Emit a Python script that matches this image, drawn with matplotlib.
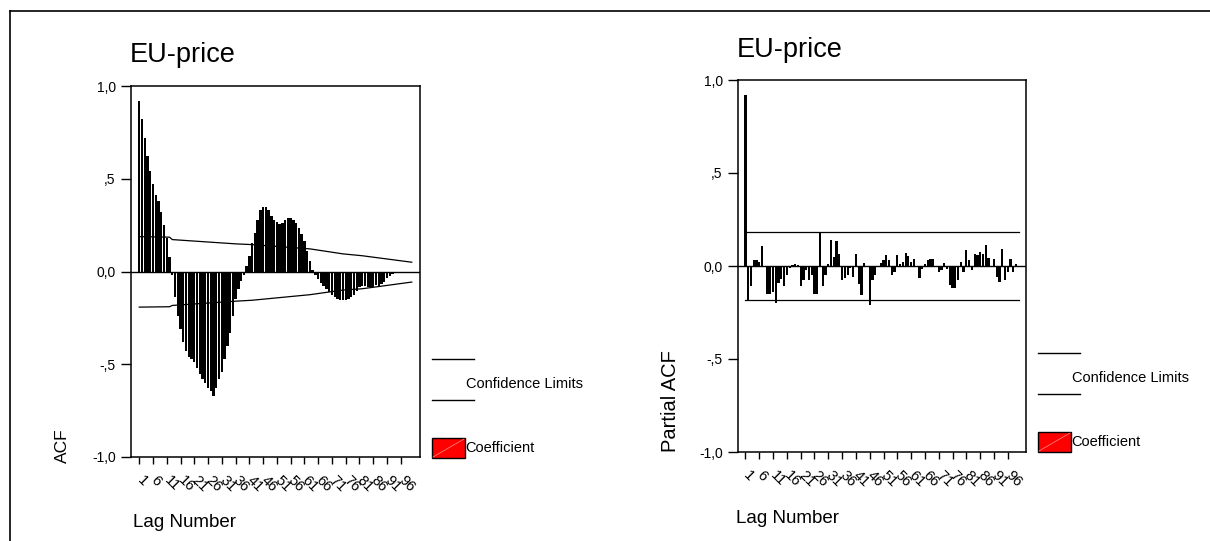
import matplotlib
matplotlib.use("Agg")
import matplotlib.pyplot as plt
from matplotlib.patches import Rectangle
from matplotlib.lines import Line2D

plt.rcParams["font.family"] = ["Liberation Sans", "DejaVu Sans"]

# ---- data -------------------------------------------------------------
lags = list(range(1, 101))

acf = [0.92, 0.82, 0.72, 0.62, 0.54, 0.47, 0.41, 0.38, 0.32, 0.25,
       0.18, 0.08, -0.02, -0.14, -0.24, -0.31, -0.38, -0.43, -0.46, -0.47,
       -0.49, -0.52, -0.55, -0.58, -0.60, -0.63, -0.645, -0.67, -0.63, -0.58,
       -0.54, -0.47, -0.40, -0.33, -0.24, -0.15, -0.095, -0.05, -0.02, 0.03,
       0.085, 0.155, 0.21, 0.28, 0.33, 0.35, 0.35, 0.33, 0.30, 0.28,
       0.265, 0.255, 0.26, 0.275, 0.29, 0.29, 0.28, 0.26, 0.235, 0.20,
       0.165, 0.11, 0.057, 0.01, -0.02, -0.04, -0.06, -0.077, -0.095, -0.11,
       -0.125, -0.14, -0.15, -0.155, -0.155, -0.155, -0.15, -0.14, -0.125, -0.105,
       -0.086, -0.077, -0.077, -0.086, -0.086, -0.082, -0.072, -0.077, -0.068, -0.054,
       -0.036, -0.023, -0.014, -0.005, -0.002, -0.004, -0.003, -0.002, -0.002, -0.001]

pacf = [0.92, -0.19, -0.105, 0.03, 0.03, 0.02, 0.11, 0.0, -0.15, -0.15,
        -0.14, -0.20, -0.09, -0.07, -0.11, -0.05, -0.01, 0.008, 0.01, 0.005,
        -0.108, -0.077, -0.023, -0.077, -0.05, -0.15, -0.15, 0.185, -0.108, -0.05,
        0.012, 0.14, 0.05, 0.135, 0.066, -0.074, -0.065, -0.05, -0.01, -0.06,
        0.066, -0.095, -0.158, 0.016, 0.0, -0.21, -0.077, -0.05, 0.0, 0.018,
        0.03, 0.06, 0.03, -0.047, -0.03, 0.06, 0.013, 0.02, 0.07, 0.054,
        0.02, 0.04, 0.0, -0.063, -0.015, 0.013, 0.03, 0.036, 0.036, 0.0,
        -0.03, -0.02, 0.018, -0.015, -0.10, -0.12, -0.12, -0.077, 0.02, -0.03,
        0.085, 0.03, -0.02, 0.066, 0.06, 0.075, 0.066, 0.115, 0.043, 0.0,
        0.04, -0.06, -0.086, 0.093, -0.074, -0.03, 0.04, -0.03, 0.01, 0.0]

# confidence limits of the ACF, read at a few lags
acf_limit_lags = [1, 12, 13, 36, 42, 63, 75, 82, 100]
acf_limit_upper = [0.188, 0.185, 0.172, 0.149, 0.145, 0.122, 0.095, 0.085, 0.05]
acf_limit_lower = [-0.192, -0.19, -0.183, -0.16, -0.155, -0.125, -0.10, -0.093, -0.057]
pacf_limit = 0.185

tick_lags = list(range(1, 97, 5))
tick_labels = [str(v) for v in tick_lags]
ytick_vals = [-1.0, -0.5, 0.0, 0.5, 1.0]
ytick_labels = ["-1,0", "-,5", "0,0", ",5", "1,0"]

title = "EU-price"

# ---- figure -------------------------------------------------------------
W, H = 1210, 541
fig = plt.figure(figsize=(W / 100, H / 100), dpi=100)
fig.patch.set_facecolor("white")


def fx(x):
    return x / W


def fy(y):
    return 1 - y / H


def px_axes(x0, y0, x1, y1):
    return fig.add_axes([fx(x0), fy(y1), (x1 - x0) / W, (y1 - y0) / H])


# outer frame (top and left edges)
fig.add_artist(Line2D([fx(10), fx(1210)], [fy(11), fy(11)], color="black", lw=1.2))
fig.add_artist(Line2D([fx(10), fx(10)], [fy(11), fy(541)], color="black", lw=1.2))


def style_axes(ax, xlim):
    ax.set_xlim(*xlim)
    ax.set_ylim(-1, 1)
    ax.axhline(0, color="black", lw=1.0, zorder=3)
    ax.set_yticks(ytick_vals)
    ax.set_yticklabels(ytick_labels, fontsize=10)
    ax.set_xticks(tick_lags)
    ax.set_xticklabels(tick_labels, fontsize=10.5, rotation=-45,
                       ha="left", va="center", rotation_mode="anchor")
    ax.tick_params(axis="y", direction="out", length=7, width=1.0, pad=4)
    ax.tick_params(axis="x", direction="out", length=5, width=1.0, pad=10)
    for s in ax.spines.values():
        s.set_linewidth(1.1)
        s.set_color("black")


def legend(x0, y_line1, y_line2, y_box):
    fig.add_artist(Line2D([fx(x0), fx(x0 + 42)], [fy(y_line1), fy(y_line1)], color="black", lw=1.0))
    fig.add_artist(Line2D([fx(x0), fx(x0 + 42)], [fy(y_line2), fy(y_line2)], color="black", lw=1.0))
    fig.text(fx(x0 + 34), fy((y_line1 + y_line2) / 2 + 5), "Confidence Limits",
             fontsize=10.5, ha="left", va="center")
    fig.add_artist(Rectangle((fx(x0), fy(y_box + 10)), 33 / W, 20 / H,
                             facecolor="#ff0000", edgecolor="black", lw=1.0))
    fig.add_artist(Line2D([fx(x0 + 1), fx(x0 + 32)], [fy(y_box + 9), fy(y_box - 9)],
                          color="#ff9090", lw=0.5))
    fig.text(fx(x0 + 33), fy(y_box), "Coefficient", fontsize=10.5, ha="left", va="center")


# ---- ACF panel ------------------------------------------------------------
ax1 = px_axes(131, 86, 420, 457)
ax1.bar(lags, acf, width=0.85, color="black", edgecolor="none", zorder=2)
ax1.plot(acf_limit_lags, acf_limit_upper, color="black", lw=0.9, zorder=4)
ax1.plot(acf_limit_lags, acf_limit_lower, color="black", lw=0.9, zorder=4)
style_axes(ax1, (-2.0, 103.0))
fig.text(fx(130), fy(62), title, fontsize=19.5, ha="left", va="baseline")
fig.text(fx(133), fy(527), "Lag Number", fontsize=13.5, ha="left", va="baseline")
fig.text(fx(62), fy(463), "ACF", fontsize=12.5, rotation=90, ha="center", va="bottom")
legend(432, 359, 400, 448)

# ---- PACF panel -----------------------------------------------------------
ax2 = px_axes(738, 80, 1026, 452)
ax2.bar(lags, pacf, width=0.8, color="black", edgecolor="none", zorder=2)
ax2.plot([lags[0], lags[-1]], [pacf_limit, pacf_limit], color="black", lw=0.9, zorder=4)
ax2.plot([lags[0], lags[-1]], [-pacf_limit, -pacf_limit], color="black", lw=0.9, zorder=4)
style_axes(ax2, (-1.7, 102.6))
fig.text(fx(737), fy(57), title, fontsize=19.5, ha="left", va="baseline")
fig.text(fx(736), fy(523), "Lag Number", fontsize=13.5, ha="left", va="baseline")
fig.text(fx(670), fy(452), "Partial ACF", fontsize=14.5, rotation=90, ha="center", va="bottom")
legend(1038, 353, 394, 442)

fig.savefig("out.png", dpi=100, facecolor="white")
